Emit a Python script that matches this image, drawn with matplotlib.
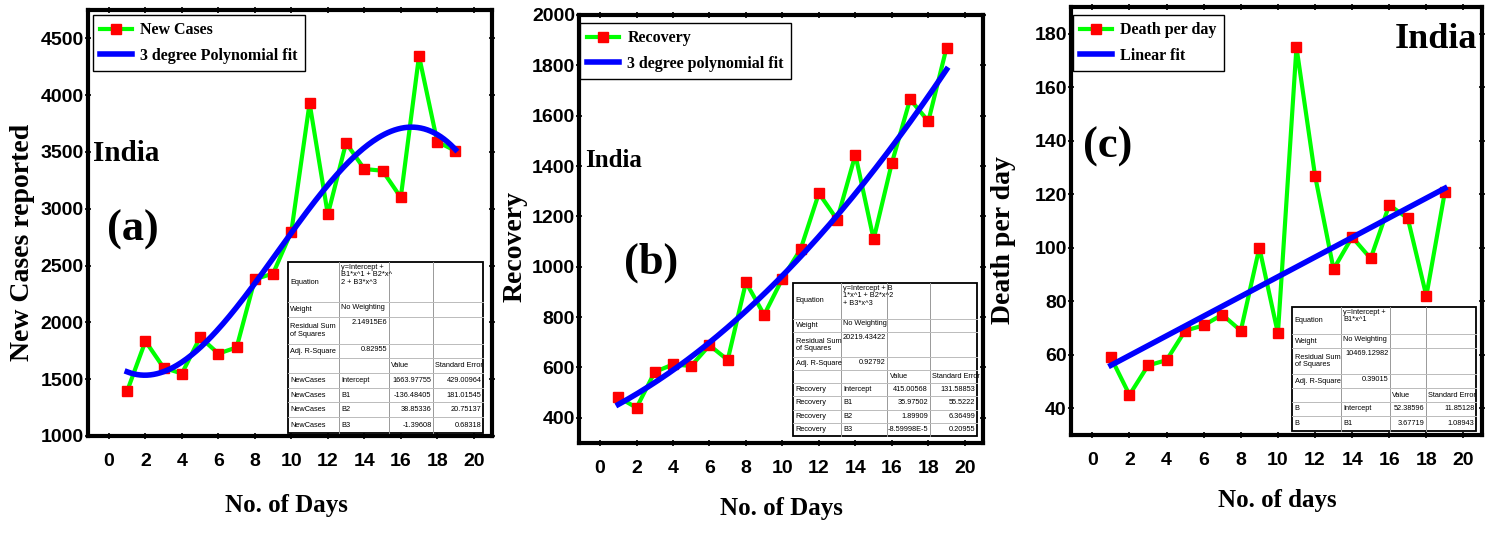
import matplotlib
matplotlib.use("Agg")
import matplotlib.pyplot as plt
import numpy as np
from matplotlib.ticker import MultipleLocator

plt.rcParams["font.family"] = ["Liberation Sans", "DejaVu Sans"]

days = list(range(1, 20))

new_cases = [1397, 1835, 1600, 1550, 1870, 1725, 1780, 2380, 2430, 2800,
             3930, 2950, 3580, 3350, 3335, 3100, 4345, 3590, 3510]
recovery = [482, 440, 582, 612, 606, 688, 630, 938, 809, 953,
            1070, 1292, 1187, 1445, 1109, 1412, 1665, 1578, 1870]
deaths = [59, 45, 56, 58, 69, 71, 75, 69, 100, 68,
          175, 127, 92, 104, 96, 116, 111, 82, 121]

# fit coefficients as printed in the tables (intercept, B1, B2, B3)
coef_cases = [1663.97755, -136.48405, 38.85336, -1.39608]
coef_recovery = [415.00568, 35.97502, 1.89909, -8.59998e-5]
coef_deaths = [52.38596, 3.67719]

table_a = [
    ["Equation", "y=Intercept +\nB1*x^1 + B2*x^\n2 + B3*x^3", "", ""],
    ["Weight", "No Weighting", "", ""],
    ["Residual Sum\nof Squares", "2.14915E6", "", ""],
    ["Adj. R-Square", "0.82955", "", ""],
    ["", "", "Value", "Standard Error"],
    ["NewCases", "Intercept", "1663.97755", "429.00964"],
    ["NewCases", "B1", "-136.48405", "181.01545"],
    ["NewCases", "B2", "38.85336", "20.75137"],
    ["NewCases", "B3", "-1.39608", "0.68318"],
]
table_b = [
    ["Equation", "y=Intercept + B\n1*x^1 + B2*x^2\n+ B3*x^3", "", ""],
    ["Weight", "No Weighting", "", ""],
    ["Residual Sum\nof Squares", "20219.43422", "", ""],
    ["Adj. R-Square", "0.92792", "", ""],
    ["", "", "Value", "Standard Error"],
    ["Recovery", "Intercept", "415.00568", "131.58853"],
    ["Recovery", "B1", "35.97502", "55.5222"],
    ["Recovery", "B2", "1.89909", "6.36499"],
    ["Recovery", "B3", "-8.59998E-5", "0.20955"],
]
table_c = [
    ["Equation", "y=Intercept +\nB1*x^1", "", ""],
    ["Weight", "No Weighting", "", ""],
    ["Residual Sum\nof Squares", "10469.12982", "", ""],
    ["Adj. R-Square", "0.39015", "", ""],
    ["", "", "Value", "Standard Error"],
    ["B", "Intercept", "52.38596", "11.85128"],
    ["B", "B1", "3.67719", "1.08943"],
]

SERIF = ["Liberation Serif", "DejaVu Serif"]


def draw_table(ax, rows, bbox, col_w, row_h, fs=5.3):
    x0, y0, x1, y1 = bbox
    cw = np.array(col_w) / sum(col_w) * (x1 - x0)
    rh = np.array(row_h) / sum(row_h) * (y1 - y0)
    xs = x0 + np.concatenate([[0], np.cumsum(cw)])
    ys = y1 - np.concatenate([[0], np.cumsum(rh)])
    tr = ax.transAxes
    ax.add_patch(plt.Rectangle((x0, y0), x1 - x0, y1 - y0, transform=tr,
                               facecolor="white", edgecolor="black", lw=1.3, zorder=5))
    for x in xs[1:-1]:
        ax.plot([x, x], [y0, y1], transform=tr, color="#999999", lw=0.7, zorder=6)
    for y in ys[1:-1]:
        ax.plot([x0, x1], [y, y], transform=tr, color="#bbbbbb", lw=0.7, zorder=6)
    for i, row in enumerate(rows):
        for j, txt in enumerate(row):
            if not txt:
                continue
            numeric = txt[0].isdigit() or txt[0] == "-"
            if numeric:
                tx, ha = xs[j + 1] - 0.004, "right"
            else:
                tx, ha = xs[j] + 0.006, "left"
            if i < 4 and j > 0:
                ty, va = ys[i] - 0.004, "top"
            else:
                ty, va = (ys[i] + ys[i + 1]) / 2, "center"
            ax.text(tx, ty, txt, transform=tr, ha=ha, va=va, fontsize=fs,
                    linespacing=1.1, zorder=7)


def style_axes(ax, ylim, ymajor, yminor):
    ax.set_xlim(-1.15, 21.0)
    ax.set_ylim(*ylim)
    ax.xaxis.set_major_locator(MultipleLocator(2))
    ax.xaxis.set_minor_locator(MultipleLocator(1))
    ax.yaxis.set_major_locator(MultipleLocator(ymajor))
    ax.yaxis.set_minor_locator(MultipleLocator(yminor))
    for s in ax.spines.values():
        s.set_linewidth(3)
    ax.tick_params(which="both", direction="inout", top=True, right=True, width=1.2)
    ax.tick_params(which="major", length=4)
    ax.tick_params(which="minor", length=3)
    ax.tick_params(axis="x", which="major", pad=10, labelsize=14)
    ax.tick_params(axis="y", which="major", pad=1, labelsize=14)
    for lab in ax.get_xticklabels() + ax.get_yticklabels():
        lab.set_fontweight("bold")


def plot_series(ax, y, label):
    ax.plot(days, y, color="#00ff00", lw=3, marker="s", ms=7,
            mfc="red", mec="red", label=label, zorder=3)


def add_labels(ax, xlabel, xl_pos, ylabel, yl_pos):
    ax.text(*xl_pos, xlabel, transform=ax.transAxes, fontsize=18,
            fontweight="bold", family=SERIF, ha="center", va="center")
    ax.text(*yl_pos, ylabel, transform=ax.transAxes, fontsize=20, rotation=90,
            fontweight="bold", family=SERIF, ha="center", va="center")


def add_legend(ax, anchor):
    ax.legend(loc="upper left", bbox_to_anchor=anchor, fancybox=False,
              edgecolor="black", framealpha=1, handlelength=2.0, borderaxespad=0,
              labelspacing=0.6, borderpad=0.45, handletextpad=0.5,
              prop={"family": SERIF, "weight": "bold", "size": 11.5})


fig = plt.figure(figsize=(14.89, 5.45), dpi=100)
ax_a = fig.add_axes([0.0591, 0.2, 0.2713, 0.7817])
ax_b = fig.add_axes([0.3889, 0.1872, 0.2713, 0.7853])
ax_c = fig.add_axes([0.7193, 0.2018, 0.276, 0.7853])

xfit = np.linspace(1, 19, 200)

# (a) new cases
plot_series(ax_a, new_cases, "New Cases")
ax_a.plot(xfit, np.polyval(coef_cases[::-1], xfit), color="#0000ff", lw=4,
          label="3 degree Polynomial fit", zorder=4)
style_axes(ax_a, (1000, 4750), 500, 250)
add_labels(ax_a, "No. of Days", (0.49, -0.162), "New Cases reported", (-0.163, 0.455))
ax_a.text(0.012, 0.664, "India", transform=ax_a.transAxes, fontsize=21,
          fontweight="bold", family=SERIF, va="center")
ax_a.text(0.111, 0.484, "(a)", transform=ax_a.transAxes, fontsize=32,
          fontweight="bold", family=SERIF, ha="center", va="center")
draw_table(ax_a, table_a, (0.495, 0.007, 0.978, 0.408),
           [153, 150, 132, 150], [120, 45, 82, 43, 43, 45, 45, 45, 47])
add_legend(ax_a, (0.012, 0.988))

# (b) recovery
plot_series(ax_b, recovery, "Recovery")
ax_b.plot(xfit, np.polyval(coef_recovery[::-1], xfit), color="#0000ff", lw=4,
          label="3 degree polynomial fit", zorder=4)
style_axes(ax_b, (300, 2000), 200, 100)
add_labels(ax_b, "No. of Days", (0.502, -0.152), "Recovery", (-0.158, 0.458))
ax_b.text(0.015, 0.661, "India", transform=ax_b.transAxes, fontsize=18,
          fontweight="bold", family=SERIF, va="center")
ax_b.text(0.178, 0.42, "(b)", transform=ax_b.transAxes, fontsize=32,
          fontweight="bold", family=SERIF, ha="center", va="center")
draw_table(ax_b, table_b, (0.53, 0.016, 0.985, 0.374),
           [142, 140, 126, 142], [107, 40, 75, 38, 38, 40, 40, 40, 39])
add_legend(ax_b, (0.003, 0.981))

# (c) deaths
plot_series(ax_c, deaths, "Death per day")
ax_c.plot(xfit, np.polyval(coef_deaths[::-1], xfit), color="#0000ff", lw=4,
          label="Linear fit", zorder=4)
style_axes(ax_c, (30, 190), 20, 10)
add_labels(ax_c, "No. of days", (0.501, -0.152), "Death per day", (-0.165, 0.456))
ax_c.text(0.988, 0.923, "India", transform=ax_c.transAxes, fontsize=26,
          fontweight="bold", family=SERIF, ha="right", va="center")
ax_c.text(0.088, 0.673, "(c)", transform=ax_c.transAxes, fontsize=32,
          fontweight="bold", family=SERIF, ha="center", va="center")
draw_table(ax_c, table_c, (0.538, 0.009, 0.985, 0.299),
           [146, 147, 107, 150], [81, 42, 77, 43, 40, 43, 45])
add_legend(ax_c, (0.005, 0.981))

fig.savefig("out.png", dpi=100)
